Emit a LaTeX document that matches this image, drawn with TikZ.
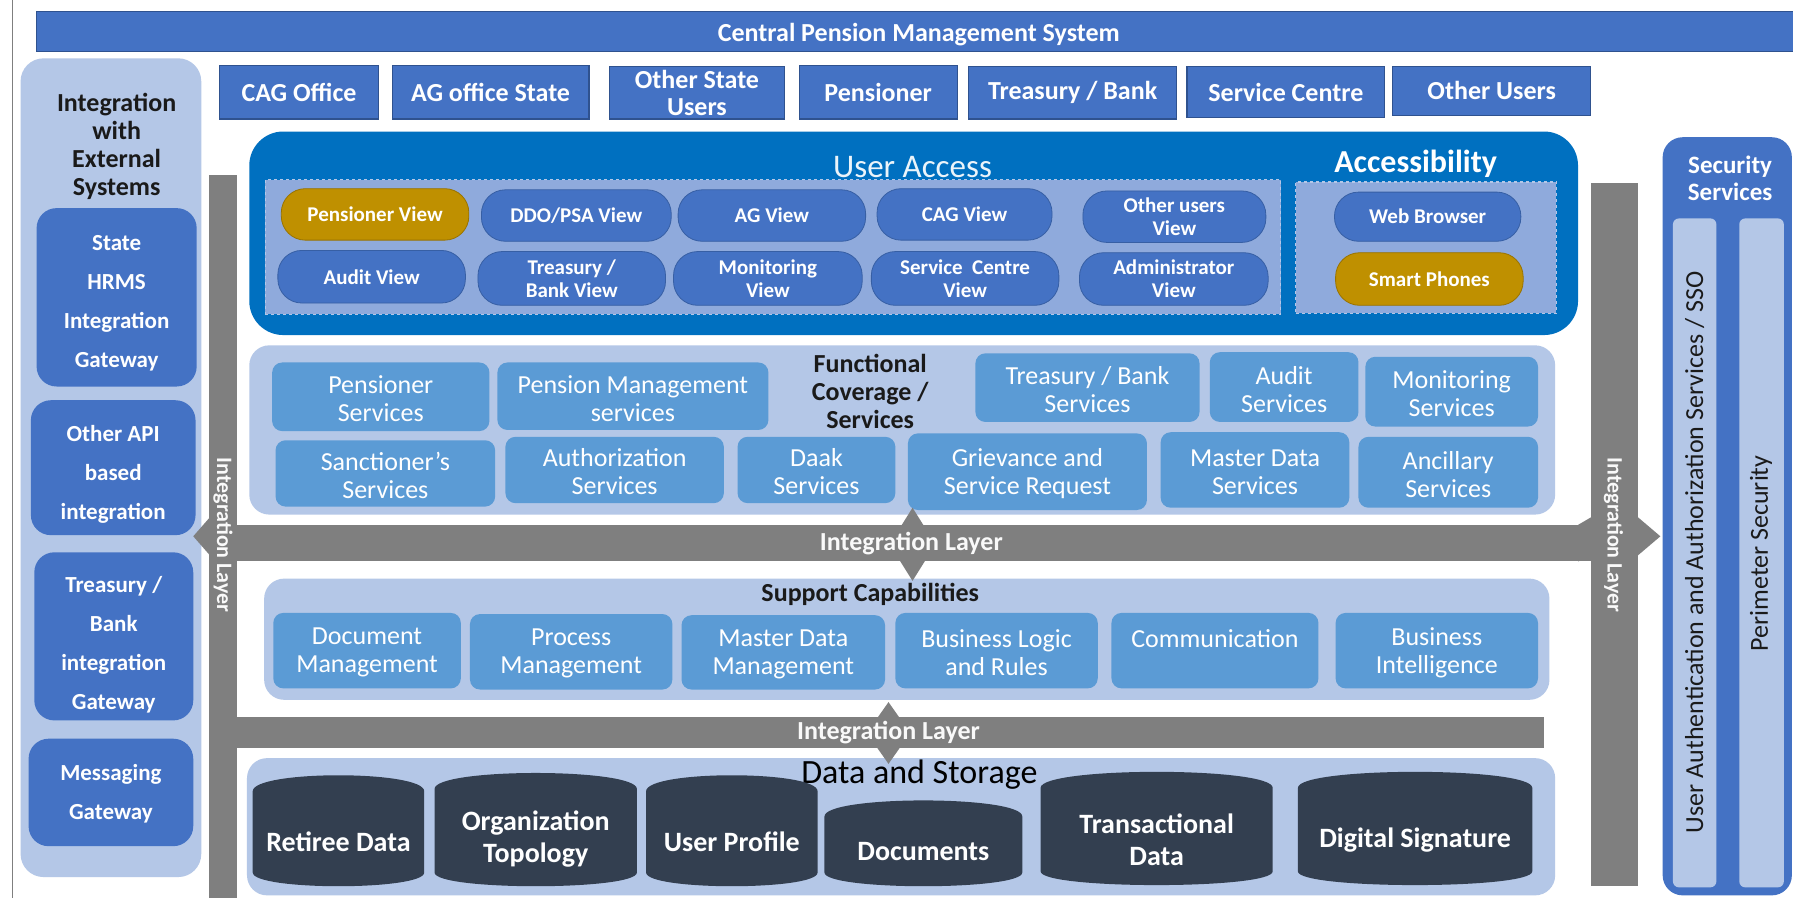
\documentclass[tikz,border=0pt]{standalone}
\usepackage{fontspec}
\setmainfont{Carlito}
\usetikzlibrary{fit}
\definecolor{dblue}{HTML}{4472C4}
\definecolor{dbord}{HTML}{2F528F}
\definecolor{uablue}{HTML}{0070C0}
\definecolor{dashfill}{HTML}{8FAADC}
\definecolor{dashline}{HTML}{B4C7E7}
\definecolor{lblue}{HTML}{B4C7E7}
\definecolor{mblue}{HTML}{5B9BD5}
\definecolor{gold}{HTML}{BF9000}
\definecolor{barg}{HTML}{7F7F7F}
\definecolor{navy}{HTML}{333F50}
\definecolor{txtdark}{HTML}{1A1A1A}
\newcommand\mypanel[6]{\node[#1,fit={(#3,#4) (#5,#6)}] (#2) {};}
\newcommand\mybox[8][]{\node[#2,fit={(#4,#5) (#6,#7)}] (#3) {};
  \node[#2, fill=none, draw=none, #1] (#3t) at (#3.center) {#8};}
\newcommand\mycyl[7]{%
  \fill[navy] (#2,{#3+14}) -- (#2,{#5-12}) .. controls (#2,{#5+4}) and (#4,{#5+4}) .. (#4,{#5-12}) -- (#4,{#3+14}) .. controls (#4,{#3-4.7}) and (#2,{#3-4.7}) .. (#2,{#3+14}) -- cycle;
  \node[cyltext] (#1) at ({(#2+#4)/2},#6) {#7};}
\tikzset{
  fb/.style={inner sep=0pt, outer sep=0pt, align=center},
  topbox/.style={fb, fill=dblue, draw=dbord, line width=1.2pt, text=white, font=\bfseries\fontsize{26}{27}\selectfont},
  lpanel/.style={fb, fill=lblue, rounded corners=23pt},
  lpanel2/.style={fb, fill=lblue, rounded corners=20pt},
  extlabel/.style={align=center, inner sep=0pt, text=txtdark, font=\bfseries\fontsize{26}{28}\selectfont},
  extbox/.style={fb, fill=dblue, rounded corners=20pt, text=white, font=\bfseries\fontsize{23}{39}\selectfont},
  uapanel/.style={fb, fill=uablue, rounded corners=34pt},
  dpanel/.style={fb, fill=dashfill, draw=dashline, dashed, line width=1.5pt},
  pill/.style={fb, fill=dblue, draw=dbord!60!dblue, line width=0.8pt, rounded corners=24pt, text=white, font=\bfseries\fontsize{21}{23}\selectfont},
  gpill/.style={pill, fill=gold, draw=gold!80!black},
  uatitle/.style={inner sep=0pt, text=white!92!uablue, font=\fontsize{33}{36}\selectfont},
  acctitle/.style={inner sep=0pt, text=white, font=\bfseries\fontsize{32}{36}\selectfont},
  func/.style={fb, fill=mblue, rounded corners=10pt, text=white, font=\fontsize{26}{28}\selectfont},
  flabel/.style={align=center, inner sep=0pt, text=txtdark, font=\bfseries\fontsize{26}{28}\selectfont},
  dtitle/.style={inner sep=0pt, text=black, font=\fontsize{34}{36}\selectfont},
  cyltext/.style={align=center, inner sep=0pt, text=white, font=\bfseries\fontsize{28}{32}\selectfont},
  bar/.style={fb, fill=barg},
  hlabel/.style={inner sep=0pt, text=white!95!gray, font=\bfseries\fontsize{26}{28}\selectfont},
  vlabel/.style={inner sep=0pt, rotate=-90, text=white!95!gray, font=\bfseries\fontsize{22}{24}\selectfont},
  secpanel/.style={fb, fill=dblue, rounded corners=20pt},
  sectitle/.style={align=center, inner sep=0pt, text=white, font=\bfseries\fontsize{25}{27}\selectfont},
  seccol/.style={fb, fill=lblue, rounded corners=6pt},
  sectext/.style={inner sep=0pt, rotate=90, text=txtdark, font=\fontsize{26}{28}\selectfont},
}
\begin{document}
\begin{tikzpicture}[x=1.1435pt,y=-1.1435pt]
\useasboundingbox[fill=white] (0,0) rectangle (1568,785);
\draw[barg, line width=1.5pt] (11,0) -- (11,785);
% title
\mybox[yshift=-3pt]{topbox}{title}{32}{10}{1575}{45}{Central Pension Management System}
% users
\mybox{topbox}{u1}{192}{57}{331}{104}{CAG Office}
\mybox{topbox}{u2}{343}{57}{515}{104}{AG office State}
\mybox{topbox}{u3}{533}{58}{686}{104}{Other State\\Users}
\mybox{topbox}{u4}{699}{57}{837}{104}{Pensioner}
\mybox{topbox}{u5}{847}{58}{1029}{104}{Treasury / Bank}
\mybox{topbox}{u6}{1038}{58}{1211}{103}{Service Centre}
\mybox{topbox}{u7}{1218}{58}{1391}{101}{Other Users}
% external integration
\mypanel{lpanel}{ext}{18}{51}{176}{767}
\node[extlabel] (extt) at (102,128) {Integration\\with\\External\\Systems};
\mybox[yshift=-6pt]{extbox}{e1}{32}{182}{172}{338}{State\\HRMS\\Integration\\Gateway}
\mybox[yshift=-7pt]{extbox}{e2}{27}{350}{171}{468}{Other API\\based\\integration}
\mybox[yshift=-8pt]{extbox}{e3}{30}{483}{169}{630}{Treasury /\\Bank\\integration\\Gateway}
\mybox[yshift=-1pt]{extbox}{e4}{25}{646}{169}{740}{Messaging\\Gateway}
% user access
\mypanel{uapanel}{ua}{218}{115}{1380}{293}
\node[uatitle] (uat) at (798,146) {User Access};
\node[acctitle] (acct) at (1238,143) {Accessibility};
\mypanel{dpanel}{views}{232}{157}{1120}{275}
\mypanel{dpanel}{acc}{1133}{159}{1361}{274}
\mybox{gpill}{p1}{246}{165}{410}{210}{Pensioner View}
\mybox{pill}{p2}{421}{166}{587}{211}{DDO/PSA View}
\mybox{pill}{p3}{593}{166}{757}{211}{AG View}
\mybox{pill}{p4}{767}{165}{920}{210}{CAG View}
\mybox{pill}{p5}{947}{167}{1107}{212}{Other users\\View}
\mybox{pill}{p6}{243}{219}{407}{265}{Audit View}
\mybox{pill}{p7}{418}{220}{582}{267}{Treasury /\\Bank View}
\mybox{pill}{p8}{589}{220}{754}{267}{Monitoring\\View}
\mybox{pill}{p9}{762}{220}{926}{267}{Service\ \ Centre\\View}
\mybox{pill}{p10}{944}{221}{1109}{267}{Administrator\\View}
\mybox{pill}{w1}{1167}{168}{1330}{211}{Web Browser}
\mybox{gpill}{w2}{1168}{221}{1332}{267}{Smart Phones}
% functional
\mypanel{lpanel2}{fpanel}{218}{302}{1360}{450}
\mybox[yshift=-2pt]{func}{f1}{238}{317}{428}{377}{Pensioner\\Services}
\mybox[yshift=-2pt]{func}{f2}{435}{317}{672}{376}{Pension Management\\services}
\node[flabel] (fl) at (761,342) {Functional\\Coverage /\\Services};
\mybox[yshift=-2pt]{func}{f3}{853}{309}{1049}{369}{Treasury / Bank\\Services}
\mybox[yshift=-2pt]{func}{f4}{1058}{308}{1188}{369}{Audit\\Services}
\mybox[yshift=-2pt]{func}{f5}{1194}{312}{1345}{373}{Monitoring\\Services}
\mybox[yshift=-2pt]{func}{f6}{241}{385}{433}{443}{Sanctioner’s\\Services}
\mybox[yshift=-2pt]{func}{f7}{442}{382}{633}{440}{Authorization\\Services}
\mybox[yshift=-2pt]{func}{f8}{645}{382}{783}{440}{Daak\\Services}
\mybox[yshift=-2pt]{func}{f9}{794}{379}{1003}{446}{Grievance and\\Service Request}
\mybox[yshift=-2pt]{func}{f10}{1015}{378}{1180}{444}{Master Data\\Services}
\mybox[yshift=-2pt]{func}{f11}{1188}{382}{1345}{444}{Ancillary\\Services}
% support
\mypanel{lpanel2}{spanel}{231}{506}{1355}{612}
\node[flabel] (sl) at (761,520) {Support Capabilities};
\mybox[yshift=-2pt]{func}{s1}{239}{536}{403}{602}{Document\\Management}
\mybox[yshift=-2pt]{func}{s2}{411}{537}{588}{603}{Process\\Management}
\mybox[yshift=-2pt]{func}{s3}{596}{538}{774}{603}{Master Data\\Management}
\mybox[yshift=-2pt]{func}{s4}{783}{536}{960}{602}{Business Logic\\and Rules}
\mybox[yshift=-2pt]{func}{s5}{972}{536}{1153}{602}{Communication\\\mbox{}}
\mybox[yshift=-2pt]{func}{s6}{1168}{536}{1345}{602}{Business\\Intelligence}
% data
\mypanel{lpanel2}{dpanel}{216}{663}{1360}{783}
\node[dtitle] (dt) at (804,677) {Data and Storage};
\mycyl{c1}{221}{678}{371}{775}{736}{Retiree Data}
\mycyl{c2}{380}{676}{557}{775}{734}{Organization\\Topology}
\mycyl{c3}{565}{678}{715}{775}{736}{User Profile}
\mycyl{c4}{721}{700}{894}{775}{745}{Documents}
\mycyl{c5}{910}{675}{1113}{774}{734}{Transactional\\Data}
\mycyl{c6}{1135}{675}{1340}{774}{735}{Digital Signature}
% integration bars
\mypanel{bar}{lbar}{183}{153}{207}{786}
\mypanel{bar}{hbar1}{183}{459}{1392}{491}
\mypanel{bar}{rbar}{1391}{160}{1432}{775}
\mypanel{bar}{hbar2}{207}{627}{1350}{654}
\fill[barg] (183,453) -- (169,469) -- (183,485) -- cycle;
\fill[barg] (1380,459) -- (1392,452) -- (1432,452) -- (1452,469) -- (1432,486) -- (1392,486) -- (1380,491) -- cycle;
\fill[barg] (798,444) -- (818,476) -- (798,508) -- (778,476) -- cycle;
\fill[barg] (777,614) -- (796,641) -- (777,668) -- (758,641) -- cycle;
\node[hlabel] (il1) at (797,475) {Integration Layer};
\node[hlabel] (il2) at (777,641) {Integration Layer};
\node[vlabel] (il3) at (195,468) {Integration Layer};
\node[vlabel] (il4) at (1411,468) {Integration Layer};
% security
\mypanel{secpanel}{sec}{1454}{120}{1567}{783}
\node[sectitle] (sect) at (1513,156) {Security\\Services};
\mypanel{seccol}{sc1}{1463}{191}{1501}{776}
\mypanel{seccol}{sc2}{1521}{191}{1560}{776}
\node[sectext] (st1) at (1482,483) {User Authentication and Authorization Services / SSO};
\node[sectext] (st2) at (1540,484) {Perimeter Security};
\end{tikzpicture}
\end{document}
